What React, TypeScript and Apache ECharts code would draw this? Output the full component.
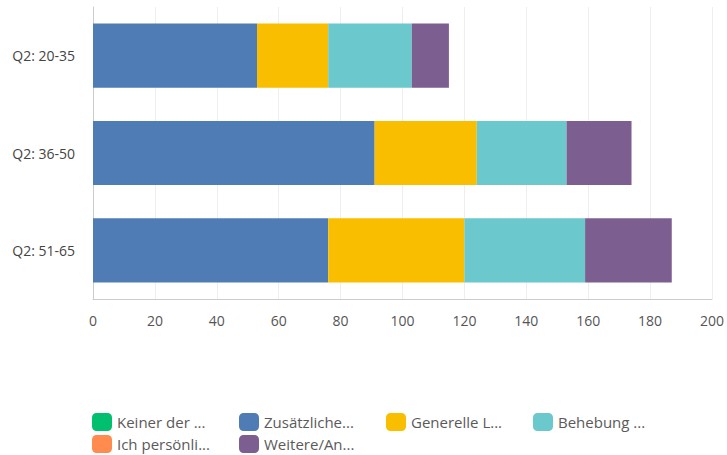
import React, { useEffect, useRef } from "react";
import * as echarts from "echarts";

const categories = ["Q2: 20-35", "Q2: 36-50", "Q2: 51-65"];
const seriesNames = ["Keiner der ...", "Zusätzliche...", "Generelle L...", "Behebung ...", "Ich persönli...", "Weitere/An..."];
const seriesColors = ["#00BF6F", "#507CB6", "#F9BE00", "#6BC8CD", "#FF8B4F", "#7D5E90"];
const keinerValues = [0, 0, 0];
const zusaetzlicheValues = [53, 91, 76];
const generelleValues = [23, 33, 44];
const behebungValues = [27, 29, 39];
const ichValues = [0, 0, 0];
const weitereValues = [12, 21, 28];
const xTicks = [0, 200, 20];

export default function App() {
  const ref = useRef<HTMLDivElement>(null);
  useEffect(() => {
    if (!ref.current) return;
    const chart = echarts.init(ref.current, null, { renderer: "svg" });
    const values = [keinerValues, zusaetzlicheValues, generelleValues, behebungValues, ichValues, weitereValues];
    const legendLefts = [92, 239, 386, 533];
    const legendTops = [413, 435];
    const legends = seriesNames.map((name, i) => ({
      left: legendLefts[i % 4],
      top: legendTops[Math.floor(i / 4)],
      padding: 0,
      itemWidth: 20,
      itemHeight: 18,
      itemGap: 0,
      icon: "roundRect",
      textStyle: { color: "#5a5a5a", fontSize: 15, fontFamily: "Open Sans", padding: [0, 0, 0, 0] },
      data: [name],
    }));
    chart.setOption({
      animation: false,
      textStyle: { fontFamily: "Open Sans" },
      grid: { left: 93, right: 14, top: 7, bottom: 156 },
      legend: legends,
      xAxis: {
        type: "value",
        min: xTicks[0],
        max: xTicks[1],
        interval: xTicks[2],
        axisLine: { show: true, lineStyle: { color: "#ccc" } },
        axisTick: { show: false },
        splitLine: { show: true, lineStyle: { color: "#eee" } },
        axisLabel: { color: "#555", fontSize: 14, margin: 14 },
      },
      yAxis: {
        type: "category",
        inverse: true,
        data: categories,
        axisLine: { show: true, lineStyle: { color: "#ccc" } },
        axisTick: { show: false },
        axisLabel: { color: "#444", fontSize: 14, margin: 18 },
      },
      series: seriesNames.map((name, i) => ({
        name,
        type: "bar",
        stack: "total",
        barWidth: "66%",
        itemStyle: { color: seriesColors[i] },
        data: values[i],
      })),
    });
    return () => chart.dispose();
  }, []);
  return <div ref={ref} style={{ width: 727, height: 455, position: "absolute", left: 0, top: 0 }} />;
}
